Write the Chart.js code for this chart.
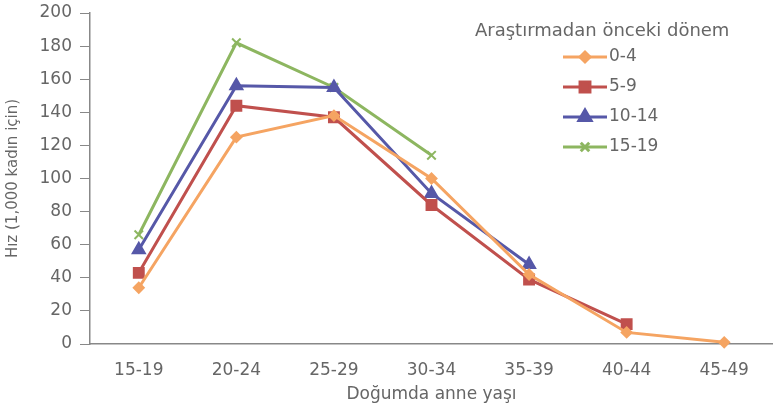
<!DOCTYPE html>
<html>
<head>
<meta charset="utf-8">
<script src="https://cdn.jsdelivr.net/npm/chart.js@4"></script>
<style>
  body { margin: 0; background: #fff; }
  #wrap { width: 773px; height: 409px; }
</style>
</head>
<body>
<div id="wrap"><canvas id="chart"></canvas></div>
<script>
// Age-specific fertility rates by period before the survey

const ageGroups = ['15-19', '20-24', '25-29', '30-34', '35-39', '40-44', '45-49'];
const yTicks = [0, 20, 40, 60, 80, 100, 120, 140, 160, 180, 200];

const period0to4 = [34, 125, 138, 100, 42, 7, 1];
const period5to9 = [43, 144, 137, 84, 39, 12, null];
const period10to14 = [57, 156, 155, 91, 48, null, null];
const period15to19 = [66, 182, 155, 114, null, null, null];

const legendTitle = 'Araştırmadan önceki dönem';
const textColor = '#666666';
const fontFamily = '"DejaVu Sans", sans-serif';

// Legend drawn by hand so it can sit inside the plot like the original
const legendPlugin = {
  id: 'boxLegend',
  afterDraw(chart) {
    const ctx = chart.ctx;
    ctx.save();
    ctx.fillStyle = textColor;
    ctx.font = '18px ' + fontFamily;
    ctx.textBaseline = 'middle';
    ctx.textAlign = 'left';
    ctx.fillText(legendTitle, 475, 31);
    ctx.font = '17px ' + fontFamily;
    chart.data.datasets.forEach((ds, i) => {
      const y = 57 + i * 30;
      ctx.strokeStyle = ds.borderColor;
      ctx.lineWidth = 3;
      ctx.beginPath();
      ctx.moveTo(563, y);
      ctx.lineTo(607, y);
      ctx.stroke();
      ctx.fillStyle = ds.borderColor;
      Chart.helpers.drawPoint(ctx, {
        pointStyle: ds.pointStyle,
        radius: ds.pointRadius,
        rotation: 0,
        borderWidth: 2
      }, 585, y);
      ctx.fillStyle = textColor;
      ctx.fillText(ds.label, 609, y);
    });
    ctx.restore();
  }
};

function makeSet(label, data, color, style, radius) {
  return {
    label: label,
    data: data,
    borderColor: color,
    backgroundColor: color,
    pointBackgroundColor: color,
    pointBorderColor: color,
    pointStyle: style,
    pointRadius: radius,
    pointBorderWidth: 2,
    borderWidth: 3,
    tension: 0,
    spanGaps: false,
    clip: false
  };
}

const ctx = document.getElementById('chart').getContext('2d');
new Chart(ctx, {
  type: 'line',
  data: {
    labels: ageGroups,
    datasets: [
      makeSet('0-4', period0to4, '#f5a462', 'rectRot', 5),
      makeSet('5-9', period5to9, '#c0504d', 'rect', 7),
      makeSet('10-14', period10to14, '#5658a8', 'triangle', 7),
      makeSet('15-19', period15to19, '#8db660', 'crossRot', 6)
    ]
  },
  plugins: [legendPlugin],
  options: {
    responsive: true,
    maintainAspectRatio: false,
    animation: false,
    layout: { autoPadding: false, padding: { left: 4, top: 13, right: 0, bottom: 4 } },
    plugins: {
      legend: { display: false },
      tooltip: { enabled: false }
    },
    scales: {
      y: {
        min: 0,
        max: 200,
        afterBuildTicks: (axis) => { axis.ticks = yTicks.map(v => ({ value: v })); },
        afterFit: (axis) => { axis.width = 86; axis.paddingTop = 0; axis.paddingBottom = 0; },
        ticks: { color: textColor, font: { size: 17, family: fontFamily }, padding: 8 },
        grid: { display: true, drawOnChartArea: false, drawTicks: true, tickLength: 10, color: '#888' },
        border: { display: true, color: '#888', width: 1.5 },
        title: {
          display: true,
          text: 'Hız (1,000 kadın için)',
          color: textColor,
          font: { size: 15, family: fontFamily },
          padding: { top: 0, bottom: 6 }
        }
      },
      x: {
        offset: true,
        afterFit: (axis) => { axis.height = 61; },
        ticks: { color: textColor, font: { size: 17, family: fontFamily }, padding: 8 },
        grid: { display: false },
        border: { display: true, color: '#888', width: 1.5 },
        title: {
          display: true,
          text: 'Doğumda anne yaşı',
          color: textColor,
          font: { size: 17, family: fontFamily },
          padding: { top: 0, bottom: 0 }
        }
      }
    }
  }
});
</script>
</body>
</html>
